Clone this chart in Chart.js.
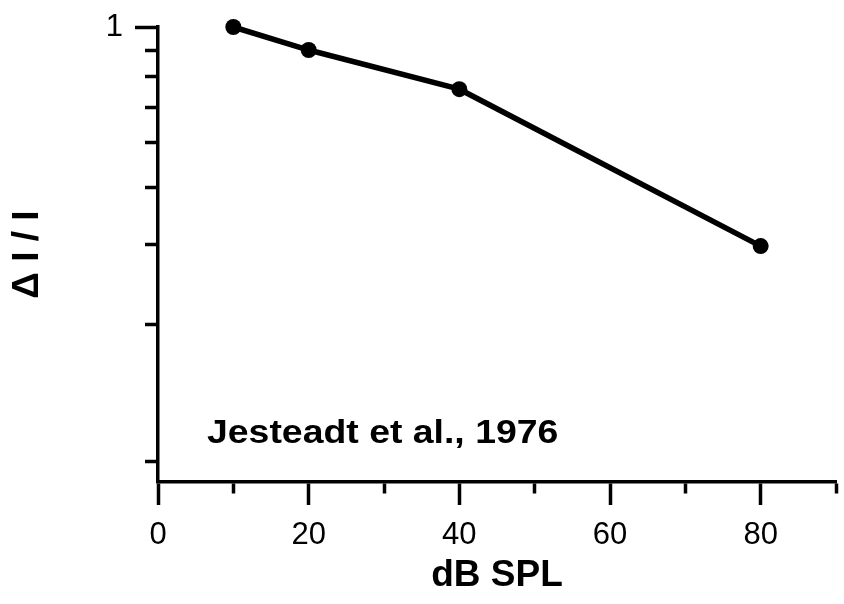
<!DOCTYPE html>
<html>
<head>
<meta charset="utf-8">
<script src="https://cdn.jsdelivr.net/npm/chart.js@4"></script>
<style>
  html, body { margin: 0; padding: 0; background: #ffffff; }
  #wrap { width: 844px; height: 604px; }
</style>
</head>
<body>
<div id="wrap"><canvas id="c" width="844" height="604"></canvas></div>
<script>
// ---- data ----
const levels = [10, 20, 40, 80];                 // dB SPL
const weberFraction = [1.0, 0.89, 0.73, 0.33];   // ΔI / I (log axis, top tick = 1)
const xTickValues = [0, 10, 20, 30, 40, 50, 60, 70, 80, 90];
const xTickLabels = ['0', '', '20', '', '40', '', '60', '', '80', ''];
const yTickValues = [1, 0.889, 0.778, 0.667, 0.556, 0.444, 0.333, 0.222, 0.111];
const yTickLabels = ['1', '', '', '', '', '', '', '', ''];
const xTitle = 'dB SPL';
const yTitle = 'Δ I / I';
const annotationText = 'Jesteadt et al., 1976';

const FONT = '"Liberation Sans", Arial, Helvetica, sans-serif';

const annotationPlugin = {
  id: 'annotationText',
  afterDraw(chart) {
    const { ctx, chartArea } = chart;
    ctx.save();
    ctx.font = 'bold 34px ' + FONT;
    ctx.fillStyle = '#000';
    ctx.textBaseline = 'alphabetic';
    ctx.textAlign = 'left';
    ctx.translate(chartArea.left + 49, chartArea.bottom - 39);
    ctx.scale(1.1, 1);
    ctx.fillText(annotationText, 0, 0);
    ctx.restore();
  }
};

new Chart(document.getElementById('c'), {
  type: 'scatter',
  data: {
    datasets: [{
      data: levels.map((x, i) => ({ x: x, y: weberFraction[i] })),
      showLine: true,
      borderColor: '#000',
      borderWidth: 5.5,
      pointRadius: 8,
      pointBackgroundColor: '#000',
      pointBorderWidth: 0,
      clip: false
    }]
  },
  options: {
    responsive: false,
    devicePixelRatio: 1,
    animation: false,
    layout: { padding: { top: 27, right: 5, bottom: 0, left: 0 } },
    plugins: { legend: { display: false }, tooltip: { enabled: false } },
    scales: {
      x: {
        type: 'linear',
        position: 'bottom',
        min: 0,
        max: 90,
        afterBuildTicks: s => { s.ticks = xTickValues.map(v => ({ value: v })); },
        afterFit: s => { s.height = 122; s.paddingLeft = 0; s.paddingRight = 0; },
        border: { display: true, color: '#000', width: 3.5 },
        grid: {
          drawOnChartArea: false,
          drawTicks: true,
          tickLength: 23,
          tickWidth: 3.5,
          tickColor: '#000',
          tickBorderDash: ctx => (ctx.index % 2 ? [10, 100] : [])
        },
        ticks: {
          color: '#000',
          font: { family: FONT, size: 31 },
          padding: 12,
          maxRotation: 0,
          autoSkip: false,
          callback: (v, i) => xTickLabels[i]
        },
        title: {
          display: true,
          text: xTitle,
          color: '#000',
          font: { family: FONT, size: 37, weight: 'bold' },
          padding: { top: 0, bottom: 6 }
        }
      },
      y: {
        type: 'logarithmic',
        position: 'left',
        min: 0.1,
        max: 1,
        afterBuildTicks: s => { s.ticks = yTickValues.map(v => ({ value: v })); },
        afterFit: s => { s.width = 158; s.paddingTop = 0; s.paddingBottom = 0; },
        border: { display: true, color: '#000', width: 3.5 },
        grid: {
          drawOnChartArea: false,
          drawTicks: true,
          tickLength: 23,
          tickWidth: 3.5,
          tickColor: '#000',
          tickBorderDash: ctx => (ctx.index === 0 ? [] : [0, 10, 12, 100])
        },
        ticks: {
          color: '#000',
          font: { family: FONT, size: 31 },
          padding: 12,
          autoSkip: false,
          callback: (v, i) => yTickLabels[i]
        },
        title: {
          display: true,
          text: yTitle,
          color: '#000',
          font: { family: FONT, size: 37, weight: 'bold' },
          padding: { top: 6, bottom: 0 }
        }
      }
    }
  },
  plugins: [annotationPlugin]
});
</script>
</body>
</html>
